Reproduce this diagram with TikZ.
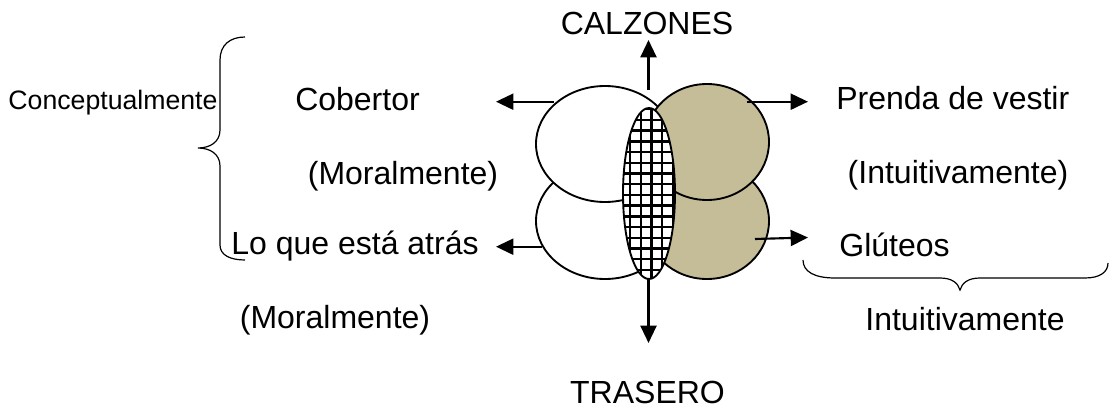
\documentclass[tikz,border=0pt]{standalone}
\usepackage{fontspec}
\setmainfont{Liberation Sans}
\usetikzlibrary{arrows.meta}
\definecolor{khakifill}{RGB}{196,189,151}
\tikzset{
  lbl/.style={anchor=base,inner sep=0pt,font=\fontsize{24}{28}\selectfont},
  lblsmall/.style={anchor=base,inner sep=0pt,font=\fontsize{20}{24}\selectfont},
  blob/.style={draw=black,line width=1.4pt},
  ptr/.style={line width=1.6pt,-{Triangle[length=13pt,width=12pt]}},
  brace/.style={line width=0.9pt},
  gridline/.style={line width=1.8pt}
}
\begin{document}
\begin{tikzpicture}[x=0.75pt,y=0.75pt,yscale=-1,xscale=1]
\useasboundingbox (0,0) rectangle (1111,410);

%Shape: Ellipses
\filldraw[blob,fill=white] (605,221) ellipse [x radius=69, y radius=58];
\filldraw[blob,fill=white] (605,144) ellipse [x radius=69, y radius=58];
\filldraw[blob,fill=khakifill] (707,221) ellipse [x radius=62, y radius=58];
\filldraw[blob,fill=khakifill] (707,142) ellipse [x radius=62, y radius=58];

%Shape: checkered ellipse
\begin{scope}
\clip (649,193.5) ellipse [x radius=26, y radius=85.5];
\fill[white] (620,105) rectangle (680,282);
\foreach \gx in {619.3,630,...,682} \draw[gridline] (\gx,100) -- (\gx,290);
\foreach \gy in {98.6,109.3,...,290} \draw[gridline] (615,\gy) -- (685,\gy);
\end{scope}
\draw[blob] (649,193.5) ellipse [x radius=26, y radius=85.5];

% arrow ends
\coordinate (upS) at (648.5,90);
\coordinate (upE) at (648.5,40);
\coordinate (dnS) at (648.5,279);
\coordinate (dnE) at (648.5,343);
\coordinate (tlS) at (554,101.7);
\coordinate (tlE) at (496,101.7);
\coordinate (trS) at (746.7,101.7);
\coordinate (trE) at (808,101.7);
\coordinate (blS) at (541.7,246.7);
\coordinate (blE) at (496,246.7);
\coordinate (brS) at (755,239);
\coordinate (brE) at (808,237.5);

\draw[ptr] (upS) -- (upE);
\draw[ptr] (dnS) -- (dnE);
\draw[ptr] (tlS) -- (tlE);
\draw[ptr] (trS) -- (trE);
\draw[ptr] (blS) -- (blE);
\draw[ptr] (brS) -- (brE);

% Text Node
\node[lbl] (calzones) at (647,34.3) {CALZONES};
\node[lbl] (trasero) at (647.5,403.3) {TRASERO};
\node[lbl] (cobertor) at (357.5,110.7) {Cobertor};
\node[lbl] (prenda) at (952.8,110) {Prenda de vestir};
\node[lbl] (moralA) at (403,184.3) {(Moralmente)};
\node[lbl] (intuitA) at (958,183.3) {(Intuitivamente)};
\node[lbl] (loque) at (355,254.3) {Lo que está atrás};
\node[lbl] (gluteos) at (894.5,256) {Glúteos};
\node[lbl] (moralB) at (335,328.3) {(Moralmente)};
\node[lbl] (intuitB) at (965,330.7) {Intuitivamente};
\node[lblsmall] (concept) at (113,110) {Conceptualmente};

%Left brace
\draw[brace] (245,37) .. controls (230,37) and (220,45) .. (220,60) -- (220,130)
  .. controls (220,142) and (210,148) .. (198,148)
  .. controls (210,148) and (220,154) .. (220,166) -- (220,245)
  .. controls (220,255) and (230,260) .. (245,260);
%Bottom right brace
\draw[brace] (803,260) .. controls (803,272) and (815,278) .. (835,278) -- (940,278)
  .. controls (952,278) and (958,283) .. (960,290)
  .. controls (962,283) and (968,278) .. (980,278) -- (1085,278)
  .. controls (1100,278) and (1108,272) .. (1108,263);

\end{tikzpicture}
\end{document}
